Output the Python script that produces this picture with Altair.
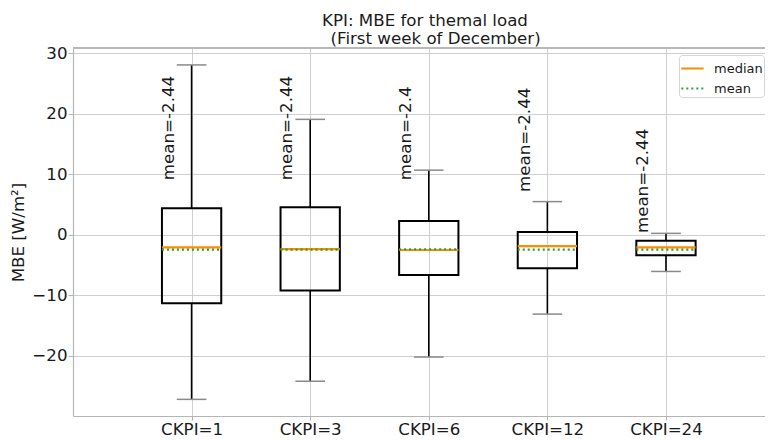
import altair as alt
import pandas as pd

# ---- data ----
names = ["CKPI=1", "CKPI=3", "CKPI=6", "CKPI=12", "CKPI=24"]
positions = [1, 2, 3, 4, 5]
whisker_low = [-27.2, -24.2, -20.2, -13.1, -6.05]
q1 = [-11.3, -9.2, -6.65, -5.5, -3.35]
median = [-2.07, -2.35, -2.5, -1.85, -2.07]
mean = [-2.44, -2.44, -2.4, -2.44, -2.44]
q3 = [4.4, 4.55, 2.28, 0.46, -0.97]
whisker_high = [28.1, 19.1, 10.7, 5.5, 0.25]
mean_labels = ["mean=-2.44", "mean=-2.44", "mean=-2.4", "mean=-2.44", "mean=-2.44"]
label_y = [9.05, 9.05, 9.05, 7.1, 0.3]
y_ticks = [-20, -10, 0, 10, 20, 30]

# ---- styles ----
FONT = "DejaVu Sans"
FS = 16.67
BOX_HALF = 0.25
CAP_HALF = 0.125
LABEL_DX = -0.15
ORANGE = "#ff8c00"
GREEN = "#2ca02c"
GRID = "#cfcfcf"
SPINE = "#b5b5b5"

df = pd.DataFrame({
    "pos": positions, "name": names, "wlo": whisker_low, "q1": q1,
    "med": median, "mean": mean, "q3": q3, "whi": whisker_high,
    "label": mean_labels, "label_y": label_y,
})

stat_rows = []
for p, m, a in zip(positions, median, mean):
    stat_rows.append({"pos": p, "stat": "median", "val": m})
    stat_rows.append({"pos": p, "stat": "mean", "val": a})
stat_df = pd.DataFrame(stat_rows)

label_expr = "[" + ",".join("'%s'" % n for n in names) + "][datum.value - 1]"

xscale = alt.Scale(domain=[0, 5.835], nice=False, zero=False)
yscale = alt.Scale(domain=[-29.95, 30.9], nice=False, zero=False)

x_axis = alt.Axis(values=positions, labelExpr=label_expr, title=None, grid=True,
                  gridColor=GRID, gridWidth=1, tickColor=SPINE, tickSize=4,
                  domainColor=SPINE, domainWidth=1.2, labelFontSize=FS,
                  labelFont=FONT, labelColor="#1a1a1a", labelPadding=1)
y_axis = alt.Axis(values=y_ticks, labelExpr="replace(datum.label, '-', '−')",
                  title="MBE [W/m²]", titleFontSize=FS, titleFont=FONT,
                  titleFontWeight="normal", titleColor="#1a1a1a", titlePadding=4,
                  grid=True, gridColor=GRID, gridWidth=1, tickColor=SPINE,
                  tickSize=5, domainColor=SPINE, domainWidth=1.2,
                  labelFontSize=FS, labelFont=FONT, labelColor="#1a1a1a",
                  labelPadding=1)

base = alt.Chart(df)

whisk_lo = base.mark_rule(color="black", strokeWidth=1.6).encode(
    x=alt.X("pos:Q", scale=xscale, axis=x_axis),
    y=alt.Y("wlo:Q", scale=yscale, axis=y_axis),
    y2="q1:Q",
)
whisk_hi = base.mark_rule(color="black", strokeWidth=1.6).encode(
    x="pos:Q", y="q3:Q", y2="whi:Q",
)
caps_lo = base.mark_rule(color="#8a8a8a", strokeWidth=1.5).transform_calculate(
    xa=f"datum.pos - {CAP_HALF}", xb=f"datum.pos + {CAP_HALF}"
).encode(x="xa:Q", x2="xb:Q", y="wlo:Q")
caps_hi = base.mark_rule(color="#8a8a8a", strokeWidth=1.5).transform_calculate(
    xa=f"datum.pos - {CAP_HALF}", xb=f"datum.pos + {CAP_HALF}"
).encode(x="xa:Q", x2="xb:Q", y="whi:Q")
boxes = base.mark_rect(filled=False, stroke="black", strokeWidth=2).transform_calculate(
    xa=f"datum.pos - {BOX_HALF}", xb=f"datum.pos + {BOX_HALF}"
).encode(x="xa:Q", x2="xb:Q", y="q1:Q", y2="q3:Q")

stats = alt.Chart(stat_df).mark_rule(strokeWidth=2.2).transform_calculate(
    xa=f"datum.pos - {BOX_HALF}", xb=f"datum.pos + {BOX_HALF}"
).encode(
    x="xa:Q", x2="xb:Q", y="val:Q",
    color=alt.Color("stat:N", scale=alt.Scale(domain=["median", "mean"], range=[ORANGE, GREEN]),
                    legend=alt.Legend(title=None, orient="none", legendX=606, legendY=7,
                                      symbolType="stroke", symbolSize=500,
                                      symbolStrokeWidth=2, labelFontSize=13, labelFont=FONT,
                                      labelColor="#1a1a1a", padding=1, rowPadding=0,
                                      fillColor="white", strokeColor="#d5d5d5",
                                      cornerRadius=3, labelOffset=9)),
    strokeDash=alt.StrokeDash("stat:N", scale=alt.Scale(domain=["median", "mean"], range=[[1, 0], [2, 3]]),
                              legend=None),
)

texts = base.mark_text(angle=270, align="left", baseline="alphabetic", fontSize=FS,
                       font=FONT, color="#1a1a1a").transform_calculate(
    xt=f"datum.pos + ({LABEL_DX})"
).encode(x="xt:Q", y="label_y:Q", text="label:N")

top_spine = alt.Chart(df).mark_rule(color=SPINE, strokeWidth=1.2).encode(
    x=alt.value(0), x2=alt.value(692), y=alt.value(0)
)

chart = alt.layer(
    whisk_lo, whisk_hi, caps_lo, caps_hi, boxes, stats, texts, top_spine
).properties(
    width=692, height=368,
    title=alt.TitleParams(
        text=["KPI: MBE for themal load",
              "\u200b\u00a0\u00a0\u00a0\u00a0(First week of December)"],
        fontSize=FS, font=FONT, fontWeight="normal", color="#1a1a1a",
        anchor="middle", offset=-2, lineHeight=18, dx=6,
    ),
    autosize=alt.AutoSizeParams(type="none"),
    padding={"left": 65, "top": 40, "right": 0, "bottom": 24},
).configure_view(stroke=None)

chart.save("out.html", embed_options={"renderer": "svg", "actions": False})
